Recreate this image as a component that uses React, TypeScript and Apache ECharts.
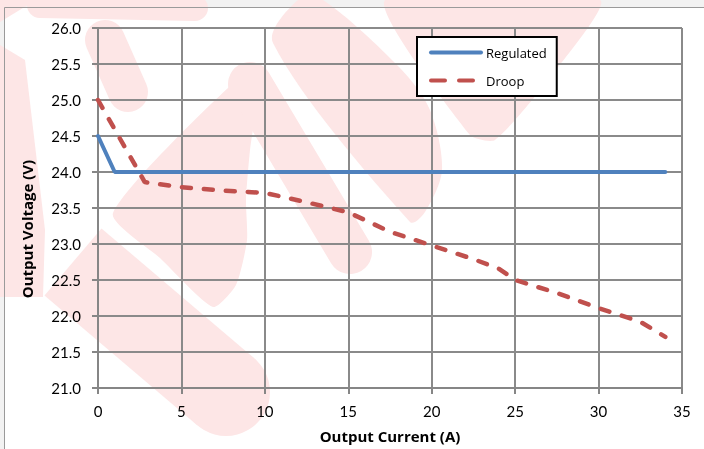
import React, { useEffect, useRef } from "react";
import * as echarts from "echarts";

const regulatedX = [0, 1, 34];
const regulatedV = [24.5, 24.0, 24.0];
const droopX = [0, 2.8, 5, 7.5, 10, 12.5, 15, 17.5, 20, 22.5, 24, 25, 27.5, 30, 32.5, 34];
const droopV = [25.0, 23.86, 23.79, 23.74, 23.71, 23.58, 23.44, 23.17, 22.98, 22.79, 22.66, 22.5, 22.32, 22.11, 21.92, 21.71];
const seriesNames = ["Regulated", "Droop"];
const xTitle = "Output Current (A)";
const yTitle = "Output Voltage (V)";

const PINK = "#fde6e6";

export default function App() {
  const ref = useRef<HTMLDivElement>(null);
  useEffect(() => {
    if (!ref.current) return;
    const chart = echarts.init(ref.current, null, { renderer: "svg" });
    const band = (points: number[][], w: number, cap = "round") => ({
      type: "polyline",
      z: -10,
      silent: true,
      shape: { points },
      style: { stroke: PINK, lineWidth: w, lineCap: cap, lineJoin: "round", fill: null },
    });
    const poly = (points: number[][], smooth = 0) => ({
      type: "polygon",
      z: -10,
      silent: true,
      shape: { points, smooth },
      style: { fill: PINK },
    });
    const dot = (cx: number, cy: number, r: number) => ({
      type: "circle",
      z: -10,
      silent: true,
      shape: { cx, cy, r },
      style: { fill: PINK },
    });
    chart.setOption({
      animation: false,
      graphic: [
        { type: "rect", z: -30, silent: true, shape: { x: 0, y: 0, width: 704, height: 449 }, style: { fill: "#f2f2f2" } },
        { type: "rect", z: -29, silent: true, shape: { x: 4.5, y: 7.5, width: 710, height: 450 }, style: { fill: "#fff" } },
        // lower stem
        band([[73, 262], [226, 392]], 88, "butt"),
        dot(226, 392, 44),
        // lower bowl + anti-diagonal
        poly([[113, 213], [240, 77], [258, 84], [250, 150], [246, 200], [247, 240], [236, 285], [213, 307], [160, 258]], 0.2),
        // upper stem
        band([[250, 84], [350, 252]], 44),
        // upper bowl
        poly([[273, 43], [298, 0], [323, 0], [400, 68], [430, 110], [442, 170], [425, 212], [410, 222]], 0.3),
        // top right wedge
        poly([[385, 0], [600, 0], [548, 80], [495, 140], [470, 135]], 0.2),
        // top band
        band([[40, 5], [195, 8]], 26),
        band([[105, 40], [128, 92]], 40),
        poly([[0, 45], [25, 60], [45, 230], [43, 297], [0, 297]], 0),
        poly([[0, 0], [36, 0], [0, 22]], 0),
        // outer frame lines
        { type: "line", z: -5, silent: true, shape: { x1: 4.5, y1: 7.5, x2: 704, y2: 7.5 }, style: { stroke: "#9a9a9a", lineWidth: 1 } },
        { type: "line", z: -5, silent: true, shape: { x1: 4.5, y1: 7.5, x2: 4.5, y2: 449 }, style: { stroke: "#9a9a9a", lineWidth: 1 } },
        {
          type: "text",
          x: 27,
          y: 229,
          rotation: Math.PI / 2,
          style: { text: yTitle, font: "bold 15px 'Open Sans'", fill: "#000", align: "center", verticalAlign: "middle" },
        },
      ],
      grid: { left: 98, right: 22, top: 28, bottom: 61, containLabel: false },
      legend: {
        orient: "vertical",
        left: 417,
        top: 37,
        padding: [9, 10, 9, 12],
        itemGap: 15,
        itemWidth: 50,
        itemHeight: 14,
        backgroundColor: "#fff",
        borderColor: "#000",
        borderWidth: 2,
        textStyle: { fontFamily: "Open Sans", fontSize: 13, color: "#000" },
        data: [
          { name: seriesNames[0], itemStyle: { opacity: 0 }, lineStyle: { width: 4, cap: "round", opacity: 1 } },
          { name: seriesNames[1], itemStyle: { opacity: 0 }, lineStyle: { width: 4, type: [14, 14], cap: "round", opacity: 1 } },
        ],
      },
      xAxis: {
        type: "value",
        min: 0,
        max: 35,
        interval: 5,
        name: xTitle,
        nameLocation: "middle",
        nameGap: 40,
        nameTextStyle: { fontFamily: "Open Sans", fontSize: 15, fontWeight: "bold", color: "#000" },
        axisLine: { lineStyle: { color: "#868686", width: 2 } },
        axisTick: { show: true, length: 6, lineStyle: { color: "#868686", width: 2 } },
        axisLabel: { fontFamily: "Lato", fontSize: 15, color: "#000", margin: 15 },
        splitLine: { show: true, lineStyle: { color: "#8a8a8a", width: 2 } },
      },
      yAxis: {
        type: "value",
        min: 21,
        max: 26,
        interval: 0.5,
        axisLine: { show: true, lineStyle: { color: "#868686", width: 2 } },
        axisTick: { show: true, length: 6, lineStyle: { color: "#868686", width: 2 } },
        axisLabel: { fontFamily: "Lato", fontSize: 15, color: "#000", margin: 17, formatter: (v: number) => v.toFixed(1) },
        splitLine: { show: true, lineStyle: { color: "#8a8a8a", width: 2 } },
      },
      series: [
        {
          name: seriesNames[0],
          type: "line",
          symbol: "none",
          data: regulatedX.map((x, i) => [x, regulatedV[i]]),
          lineStyle: { color: "#4f81bd", width: 4, cap: "round" },
          itemStyle: { color: "#4f81bd" },
          z: 3,
        },
        {
          name: seriesNames[1],
          type: "line",
          symbol: "none",
          data: droopX.map((x, i) => [x, droopV[i]]),
          lineStyle: { color: "#c0504d", width: 4.5, type: [9, 13], cap: "round" },
          itemStyle: { color: "#c0504d" },
          z: 2,
        },
      ],
    });
    return () => chart.dispose();
  }, []);
  return <div ref={ref} style={{ position: "fixed", left: 0, top: 0, width: 704, height: 449 }} />;
}
